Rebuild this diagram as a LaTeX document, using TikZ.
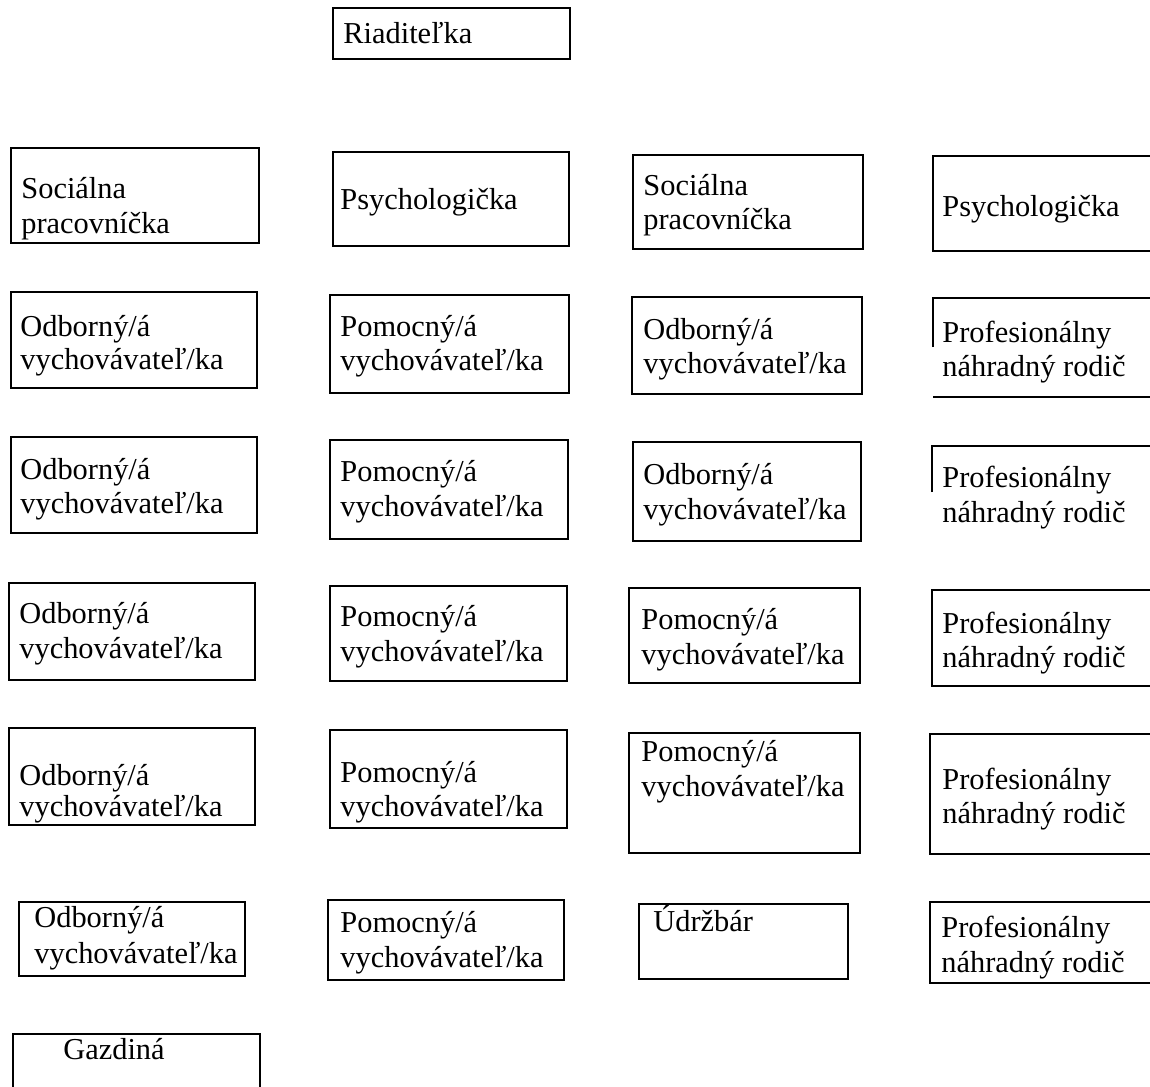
\documentclass[tikz,border=0pt]{standalone}
\usepackage{fontspec}
\setmainfont{Liberation Serif}
\usetikzlibrary{fit}
\tikzset{
  box/.style={draw, inner sep=0pt, line width=0.8pt},
  boxb/.style={box, line width=1.15pt},
  txt/.style={anchor=base west, inner sep=0pt, font=\fontsize{15.2}{17}\selectfont},
  partial/.style={line width=0.9pt}
}
\newcommand\twoline[6]{\node[txt] (#1a) at (#2,#3) {#5};\node[txt] (#1b) at (#2,#4) {#6};}
\begin{document}
\begin{tikzpicture}[x=0.5pt,y=-0.5pt]
\useasboundingbox (0,0) rectangle (1150,1086);
\fill[white] (0,0) rectangle (1150,1086);
\clip (0,0) rectangle (1150,1086);
% director
\node[boxb, fit={(333,8) (570,59)}] (dir) {};
\node[txt] (dirt) at (343,44) {Riaditeľka};
% row 1
\node[box, fit={(11,148) (259,243)}] (r1c1) {};
\twoline{r1c1t}{21}{198}{233}{Sociálna}{pracovníčka}
\node[boxb, fit={(333,152) (569,246)}] (r1c2) {};
\node[txt] (r1c2t) at (340,209) {Psychologička};
\node[boxb, fit={(633,155) (863,249)}] (r1c3) {};
\twoline{r1c3t}{643}{195}{229}{Sociálna}{pracovníčka}
\node[boxb, fit={(933,156) (1170,251)}] (r1c4) {};
\node[txt] (r1c4t) at (942,216) {Psychologička};
% row 2
\node[box, fit={(11,292) (257,388)}] (r2c1) {};
\twoline{r2c1t}{20}{336}{369}{Odborný/á}{vychovávateľ/ka}
\node[boxb, fit={(330,295) (569,393)}] (r2c2) {};
\twoline{r2c2t}{340}{336}{370}{Pomocný/á}{vychovávateľ/ka}
\node[boxb, fit={(632,297) (862,394)}] (r2c3) {};
\twoline{r2c3t}{643}{339}{373}{Odborný/á}{vychovávateľ/ka}
\coordinate (r2c4nw) at (933,298);
\coordinate (r2c4ne) at (1160,298);
\coordinate (r2c4l) at (933,347);
\coordinate (r2c4sw) at (933,397);
\coordinate (r2c4se) at (1160,397);
\draw[partial] (r2c4l) -- (r2c4nw) -- (r2c4ne);
\draw[partial] (r2c4sw) -- (r2c4se);
\twoline{r2c4t}{942}{342}{376}{Profesionálny}{náhradný rodič}
% row 3
\node[box, fit={(11,437) (257,533)}] (r3c1) {};
\twoline{r3c1t}{20}{479}{513}{Odborný/á}{vychovávateľ/ka}
\node[boxb, fit={(330,440) (568,539)}] (r3c2) {};
\twoline{r3c2t}{340}{481}{516}{Pomocný/á}{vychovávateľ/ka}
\node[boxb, fit={(633,442) (861,541)}] (r3c3) {};
\twoline{r3c3t}{643}{484}{519}{Odborný/á}{vychovávateľ/ka}
\coordinate (r3c4nw) at (932,446);
\coordinate (r3c4ne) at (1160,446);
\coordinate (r3c4l) at (932,492);
\draw[partial] (r3c4l) -- (r3c4nw) -- (r3c4ne);
\twoline{r3c4t}{942}{487}{522}{Profesionálny}{náhradný rodič}
% row 4
\node[box, fit={(9,583) (255,680)}] (r4c1) {};
\twoline{r4c1t}{19}{623}{658}{Odborný/á}{vychovávateľ/ka}
\node[boxb, fit={(330,586) (567,681)}] (r4c2) {};
\twoline{r4c2t}{340}{626}{661}{Pomocný/á}{vychovávateľ/ka}
\node[boxb, fit={(629,588) (860,683)}] (r4c3) {};
\twoline{r4c3t}{641}{629}{664}{Pomocný/á}{vychovávateľ/ka}
\node[box, fit={(932,590) (1170,686)}] (r4c4) {};
\twoline{r4c4t}{942}{633}{667}{Profesionálny}{náhradný rodič}
% row 5
\node[box, fit={(9,728) (255,825)}] (r5c1) {};
\twoline{r5c1t}{19}{785}{816}{Odborný/á}{vychovávateľ/ka}
\node[boxb, fit={(330,730) (567,828)}] (r5c2) {};
\twoline{r5c2t}{340}{782}{816}{Pomocný/á}{vychovávateľ/ka}
\node[boxb, fit={(629,733) (860,853)}] (r5c3) {};
\twoline{r5c3t}{641}{761}{796}{Pomocný/á}{vychovávateľ/ka}
\node[box, fit={(930,734) (1170,854)}] (r5c4) {};
\twoline{r5c4t}{942}{789}{823}{Profesionálny}{náhradný rodič}
% row 6
\node[box, fit={(19,902) (245,976)}] (r6c1) {};
\twoline{r6c1t}{34}{927}{963}{Odborný/á}{vychovávateľ/ka}
\node[boxb, fit={(328,900) (564,980)}] (r6c2) {};
\twoline{r6c2t}{340}{932}{967}{Pomocný/á}{vychovávateľ/ka}
\node[box, fit={(639,904) (848,979)}] (r6c3) {};
\node[txt] (r6c3t) at (653,931) {Údržbár};
\node[box, fit={(930,902) (1170,983)}] (r6c4) {};
\twoline{r6c4t}{941}{937}{972}{Profesionálny}{náhradný rodič}
% housekeeper
\node[box, fit={(13,1034) (260,1110)}] (gaz) {};
\node[txt] (gazt) at (63,1059) {Gazdiná};
\end{tikzpicture}
\end{document}
